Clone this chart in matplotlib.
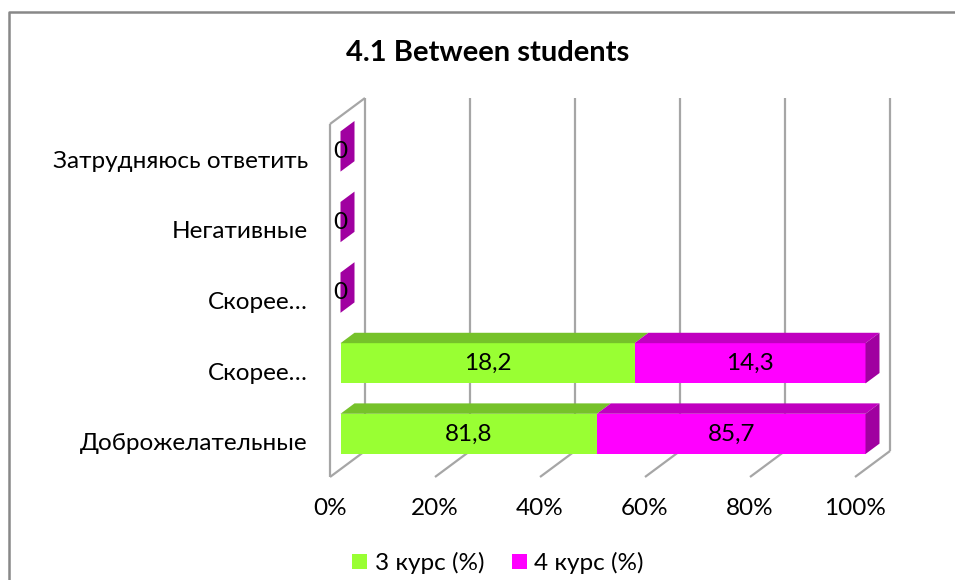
"""
Between students: 100% stacked 3D-style horizontal bars (3 курс vs 4 курс).
"""

import matplotlib
matplotlib.use("Agg")
import matplotlib.pyplot as plt
from matplotlib.patches import Polygon, Patch
from matplotlib.lines import Line2D

title = "4.1 Between students"
categories = ["Доброжелательные", "Скорее…", "Скорее…", "Негативные", "Затрудняюсь ответить"]
course3 = [81.8, 18.2, 0, 0, 0]
course4 = [85.7, 14.3, 0, 0, 0]
series_names = ["3 курс (%)", "4 курс (%)"]
x_ticks = [0, 20, 40, 60, 80, 100]
x_tick_labels = ["0%", "20%", "40%", "60%", "80%", "100%"]

plt.rcParams["font.family"] = ["Lato", "DejaVu Sans"]
FS = 17.5

W, H = 955, 580
fig = plt.figure(figsize=(W / 100, H / 100), dpi=100)

# front plane of the box (pixels)
left, right, top, bottom = 330, 855, 124, 477
ax = fig.add_axes([left / W, 1 - bottom / H, (right - left) / W, (bottom - top) / H])
ax.set_xlim(0, 100)
ax.set_ylim(-0.5, len(categories) - 0.5)
ax.patch.set_visible(False)
for s in ax.spines.values():
    s.set_visible(False)

# depth offset of the back wall, in data units
DX = 35 / ((right - left) / 100)
DY = 26 / ((bottom - top) / len(categories))
D0, D1 = 0.3, 0.7  # bar depth range
BAR_H = 0.57

grid_kw = dict(color="#a6a6a6", lw=1.6, zorder=1, clip_on=False, solid_capstyle="butt")
y_lo, y_hi = -0.5, len(categories) - 0.5

# back wall gridlines and floor diagonals
for xt in x_ticks:
    ax.plot([xt + DX, xt + DX], [y_lo + DY, y_hi + DY], **grid_kw)
    ax.plot([xt, xt + DX], [y_lo, y_lo + DY], **grid_kw)
# left wall
ax.plot([0, 0], [y_lo, y_hi], **grid_kw)
ax.plot([0, DX], [y_hi, y_hi + DY], **grid_kw)

colors = [
    {"front": "#99FF33", "top": "#76C22A", "side": "#66A822"},
    {"front": "#FF00FF", "top": "#C000C0", "side": "#A000A0"},
]


def pt(x, y, d):
    return (x + d * DX, y + d * DY)


for i, vals in enumerate(zip(course3, course4)):
    total = sum(vals)
    x0 = 0
    y0, y1 = i - BAR_H / 2, i + BAR_H / 2
    for k, v in enumerate(vals):
        share = v / total * 100 if total else 0
        x1 = x0 + share
        c = colors[k]
        if share > 0:
            front = [pt(x0, y0, D0), pt(x1, y0, D0), pt(x1, y1, D0), pt(x0, y1, D0)]
            topf = [pt(x0, y1, D0), pt(x1, y1, D0), pt(x1, y1, D1), pt(x0, y1, D1)]
            ax.add_patch(Polygon(front, closed=True, fc=c["front"], ec="none", zorder=3, clip_on=False))
            ax.add_patch(Polygon(topf, closed=True, fc=c["top"], ec="none", zorder=3, clip_on=False))
        if k == len(vals) - 1:
            side = [pt(x1, y0, D0), pt(x1, y0, D1), pt(x1, y1, D1), pt(x1, y1, D0)]
            ax.add_patch(Polygon(side, closed=True, fc=c["side"], ec="none", zorder=3, clip_on=False))
        if v > 0 or k == len(vals) - 1:
            lx, ly = pt((x0 + x1) / 2, i, D0)
            ax.text(lx, ly, f"{v:g}".replace(".", ","), ha="center", va="center",
                    fontsize=FS, zorder=5, clip_on=False)
        x0 = x1

ax.set_xticks(x_ticks)
ax.set_xticklabels(x_tick_labels, fontsize=FS)
ax.set_yticks(range(len(categories)))
ax.set_yticklabels(categories, fontsize=FS)
ax.tick_params(axis="x", length=0, pad=15)
ax.tick_params(axis="y", length=0, pad=16)

fig.text(488 / W, 1 - 53 / H, title, ha="center", va="center", fontsize=21, fontweight="bold")

handles = [Patch(fc=colors[0]["front"]), Patch(fc=colors[1]["front"])]
fig.legend(handles, series_names, loc="center", bbox_to_anchor=(498 / W, 1 - 563 / H),
           ncol=2, frameon=False, fontsize=FS, handlelength=0.62, handleheight=0.62,
           handletextpad=0.3, columnspacing=1.15, borderpad=0)

# chart border (only left and top edges fall inside the picture)
fig.add_artist(Line2D([9 / W, 9 / W, 1], [0, 1 - 12 / H, 1 - 12 / H],
                      transform=fig.transFigure, color="#888888", lw=1.8))

fig.savefig("out.png", dpi=100)
